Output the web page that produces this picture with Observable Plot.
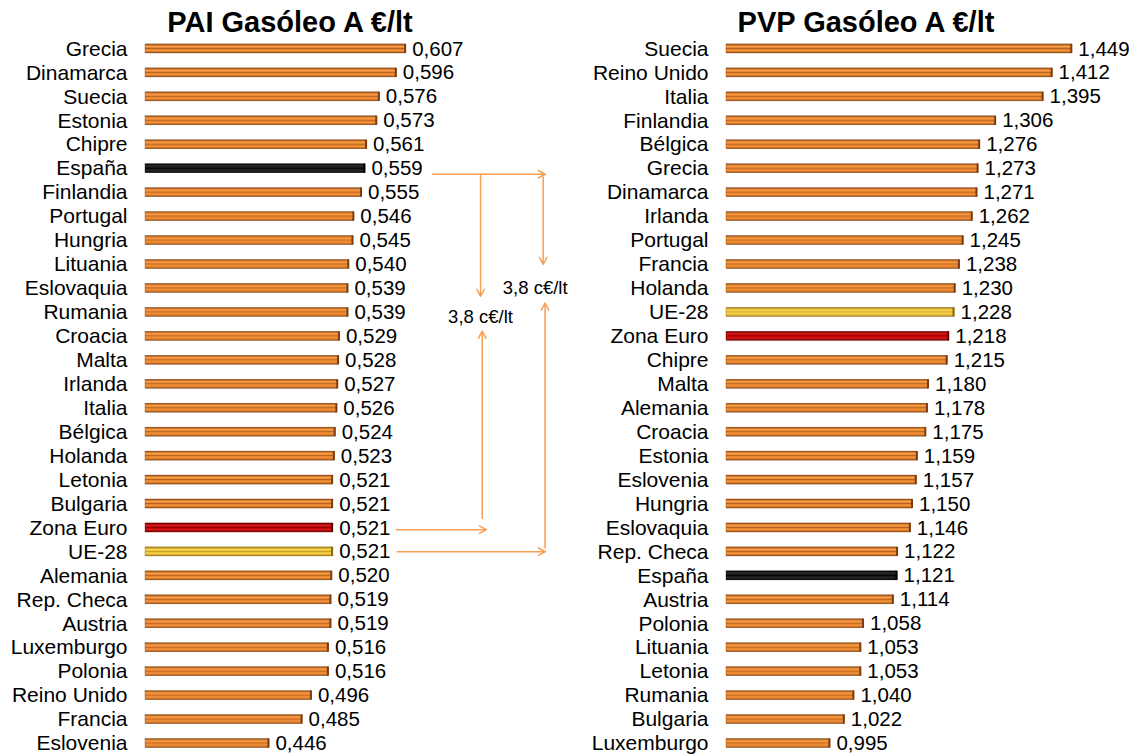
<!DOCTYPE html>
<html>
<head>
<meta charset="utf-8">
<script src="https://cdn.jsdelivr.net/npm/d3@7"></script>
<script src="https://cdn.jsdelivr.net/npm/@observablehq/plot@0.6"></script>
<style>
  body { margin: 0; background: #fff; }
  #wrap { position: relative; width: 1137px; height: 756px; overflow: hidden; font-family: "Liberation Sans", Arial, sans-serif; }
  .title { position: absolute; top: 8px; width: 440px; text-align: center; font-weight: bold; font-size: 29px; line-height: 28px; color: #000; white-space: nowrap; }
  .panel { position: absolute; top: 0; }
</style>
</head>
<body>
<div id="wrap">
  <div class="panel" id="left"></div>
  <div class="panel" id="right" style="left:575px"></div>
  <div class="title" id="t1" style="left:70px"></div>
  <div class="title" id="t2" style="left:646px"></div>
</div>
<script>
// ---------------- data ----------------
const paiTitle = "PAI Gasóleo A €/lt";
const pvpTitle = "PVP Gasóleo A €/lt";

const paiNames = ["Grecia","Dinamarca","Suecia","Estonia","Chipre","España","Finlandia","Portugal","Hungria","Lituania",
  "Eslovaquia","Rumania","Croacia","Malta","Irlanda","Italia","Bélgica","Holanda","Letonia","Bulgaria",
  "Zona Euro","UE-28","Alemania","Rep. Checa","Austria","Luxemburgo","Polonia","Reino Unido","Francia","Eslovenia"];
const paiValues = [0.607,0.596,0.576,0.573,0.561,0.559,0.555,0.546,0.545,0.540,
  0.539,0.539,0.529,0.528,0.527,0.526,0.524,0.523,0.521,0.521,
  0.521,0.521,0.520,0.519,0.519,0.516,0.516,0.496,0.485,0.446];

const pvpNames = ["Suecia","Reino Unido","Italia","Finlandia","Bélgica","Grecia","Dinamarca","Irlanda","Portugal","Francia",
  "Holanda","UE-28","Zona Euro","Chipre","Malta","Alemania","Croacia","Estonia","Eslovenia","Hungria",
  "Eslovaquia","Rep. Checa","España","Austria","Polonia","Lituania","Letonia","Rumania","Bulgaria","Luxemburgo"];
const pvpValues = [1.449,1.412,1.395,1.306,1.276,1.273,1.271,1.262,1.245,1.238,
  1.230,1.228,1.218,1.215,1.180,1.178,1.175,1.159,1.157,1.150,
  1.146,1.122,1.121,1.114,1.058,1.053,1.053,1.040,1.022,0.995];

const highlightRows = {"España": "black", "Zona Euro": "red", "UE-28": "yellow"};

// ---------------- styles ----------------
const kinds = ["orange", "black", "red", "yellow"];
const gradStops = {
  orange: [[0,"#8a4712"],[0.13,"#c96e22"],[0.27,"#f6a352"],[0.44,"#e47f28"],[0.5,"#b5601a"],[0.56,"#e47f28"],[0.74,"#f1933f"],[0.88,"#c96e22"],[1,"#8a4712"]],
  black:  [[0,"#000"],[0.25,"#2c2c2c"],[0.45,"#111"],[0.5,"#000"],[0.55,"#111"],[0.75,"#262626"],[1,"#000"]],
  red:    [[0,"#6a0000"],[0.15,"#a80808"],[0.28,"#d82020"],[0.44,"#c00000"],[0.5,"#8c0000"],[0.56,"#c00000"],[0.74,"#cf1a1a"],[0.88,"#a80808"],[1,"#6a0000"]],
  yellow: [[0,"#9a7414"],[0.14,"#cfa52c"],[0.28,"#f7da55"],[0.44,"#eac23c"],[0.5,"#c69e26"],[0.56,"#eac23c"],[0.74,"#f3d04a"],[0.88,"#cfa52c"],[1,"#9a7414"]]
};
const edgeColor = {orange: "#7a3c10", black: "#000", red: "#5a0000", yellow: "#86650f"};
const arrowColor = "#f7a057";
const halfBar = 0.19;
const fontFamily = "'Liberation Sans', Arial, sans-serif";

const locale = d3.formatLocale({decimal: ",", thousands: ".", grouping: [3], currency: ["", "€"]});
const fmt = locale.format(".3f");
const fmt1 = locale.format(".1f");
const kindOf = name => highlightRows[name] || "orange";

function addDefs(svg, prefix) {
  const defs = d3.select(svg).insert("defs", ":first-child");
  for (const k of kinds) {
    const g = defs.append("linearGradient").attr("id", `${prefix}-${k}`)
      .attr("x1", 0).attr("y1", 0).attr("x2", 0).attr("y2", 1);
    for (const [o, c] of gradStops[k]) g.append("stop").attr("offset", o).attr("stop-color", c);
  }
}

function panel({names, values, xDomain, width, marginLeft, marginRight, prefix, extraMarks = []}) {
  const rows = names.map((name, i) => ({name, value: values[i], i, kind: kindOf(name)}));
  const x0 = xDomain[0];
  const marks = [];
  for (const k of kinds) {
    const sub = rows.filter(d => d.kind === k);
    marks.push(Plot.rectX(sub, {
      x1: d => x0, x2: "value",
      y1: d => d.i - halfBar, y2: d => d.i + halfBar,
      fill: `url(#${prefix}-${k})`,
      stroke: edgeColor[k], strokeWidth: 0.4, strokeOpacity: 0.8
    }));
    marks.push(Plot.ruleX(sub, {
      x: "value", y1: d => d.i - halfBar, y2: d => d.i + halfBar,
      stroke: edgeColor[k], strokeWidth: 2, dx: -1
    }));
  }
  marks.push(Plot.text(rows, {x: d => x0, y: "i", text: "name", textAnchor: "end", dx: -18, fontSize: 21, fill: "#000"}));
  marks.push(Plot.text(rows, {x: "value", y: "i", text: d => fmt(d.value), textAnchor: "start", dx: 6, fontSize: 20.5, fill: "#000"}));
  const svg = Plot.plot({
    width, height: 756,
    marginLeft, marginRight, marginTop: 24.5, marginBottom: 3.4,
    x: {domain: xDomain, axis: null},
    y: {domain: [-1, 29.4], reverse: true, axis: null},
    style: {fontFamily, fontSize: "20px", color: "#000", background: "transparent", overflow: "visible"},
    marks: [...marks, ...extraMarks]
  });
  addDefs(svg, prefix);
  return svg;
}

// ---------------- annotations (left panel, data units) ----------------
const iEsp = paiNames.indexOf("España");
const iZE = paiNames.indexOf("Zona Euro");
const iUE = paiNames.indexOf("UE-28");
const diffZE = (paiValues[iEsp] - paiValues[iZE]) * 100;
const diffUE = (paiValues[iEsp] - paiValues[iUE]) * 100;

const arrows = [
  {x1: 0.638,  y1: iEsp + 0.23, x2: 0.771,  y2: iEsp + 0.23},
  {x1: 0.6946, y1: iEsp + 0.23, x2: 0.6946, y2: 10.33},
  {x1: 0.7684, y1: iEsp + 0.35, x2: 0.7684, y2: 9.0},
  {x1: 0.5956, y1: iZE + 0.07,  x2: 0.7016, y2: iZE + 0.07},
  {x1: 0.6966, y1: iZE - 0.39,  x2: 0.6966, y2: 11.78},
  {x1: 0.5965, y1: iUE - 0.01,  x2: 0.7711, y2: iUE - 0.01},
  {x1: 0.7706, y1: iUE - 0.17,  x2: 0.7706, y2: 10.61}
];
const notes = [
  {x: 0.6946, y: 11.19, text: `${fmt1(diffZE)} c€/lt`},
  {x: 0.759,  y: 10.0,  text: `${fmt1(diffUE)} c€/lt`}
];

const leftSvg = panel({
  names: paiNames, values: paiValues, xDomain: [0.3, 0.8],
  width: 575, marginLeft: 145, marginRight: 5.5, prefix: "pai",
  extraMarks: [
    Plot.arrow(arrows, {x1: "x1", y1: "y1", x2: "x2", y2: "y2", stroke: arrowColor, strokeWidth: 1.5, headLength: 8, headAngle: 55}),
    Plot.text(notes, {x: "x", y: "y", text: "text", fontSize: 18.5, fill: "#000"})
  ]
});
const rightSvg = panel({
  names: pvpNames, values: pvpValues, xDomain: [0.8, 1.5],
  width: 562, marginLeft: 151, marginRight: 38, prefix: "pvp"
});

document.getElementById("left").appendChild(leftSvg);
document.getElementById("right").appendChild(rightSvg);
document.getElementById("t1").textContent = paiTitle;
document.getElementById("t2").textContent = pvpTitle;
</script>
</body>
</html>
